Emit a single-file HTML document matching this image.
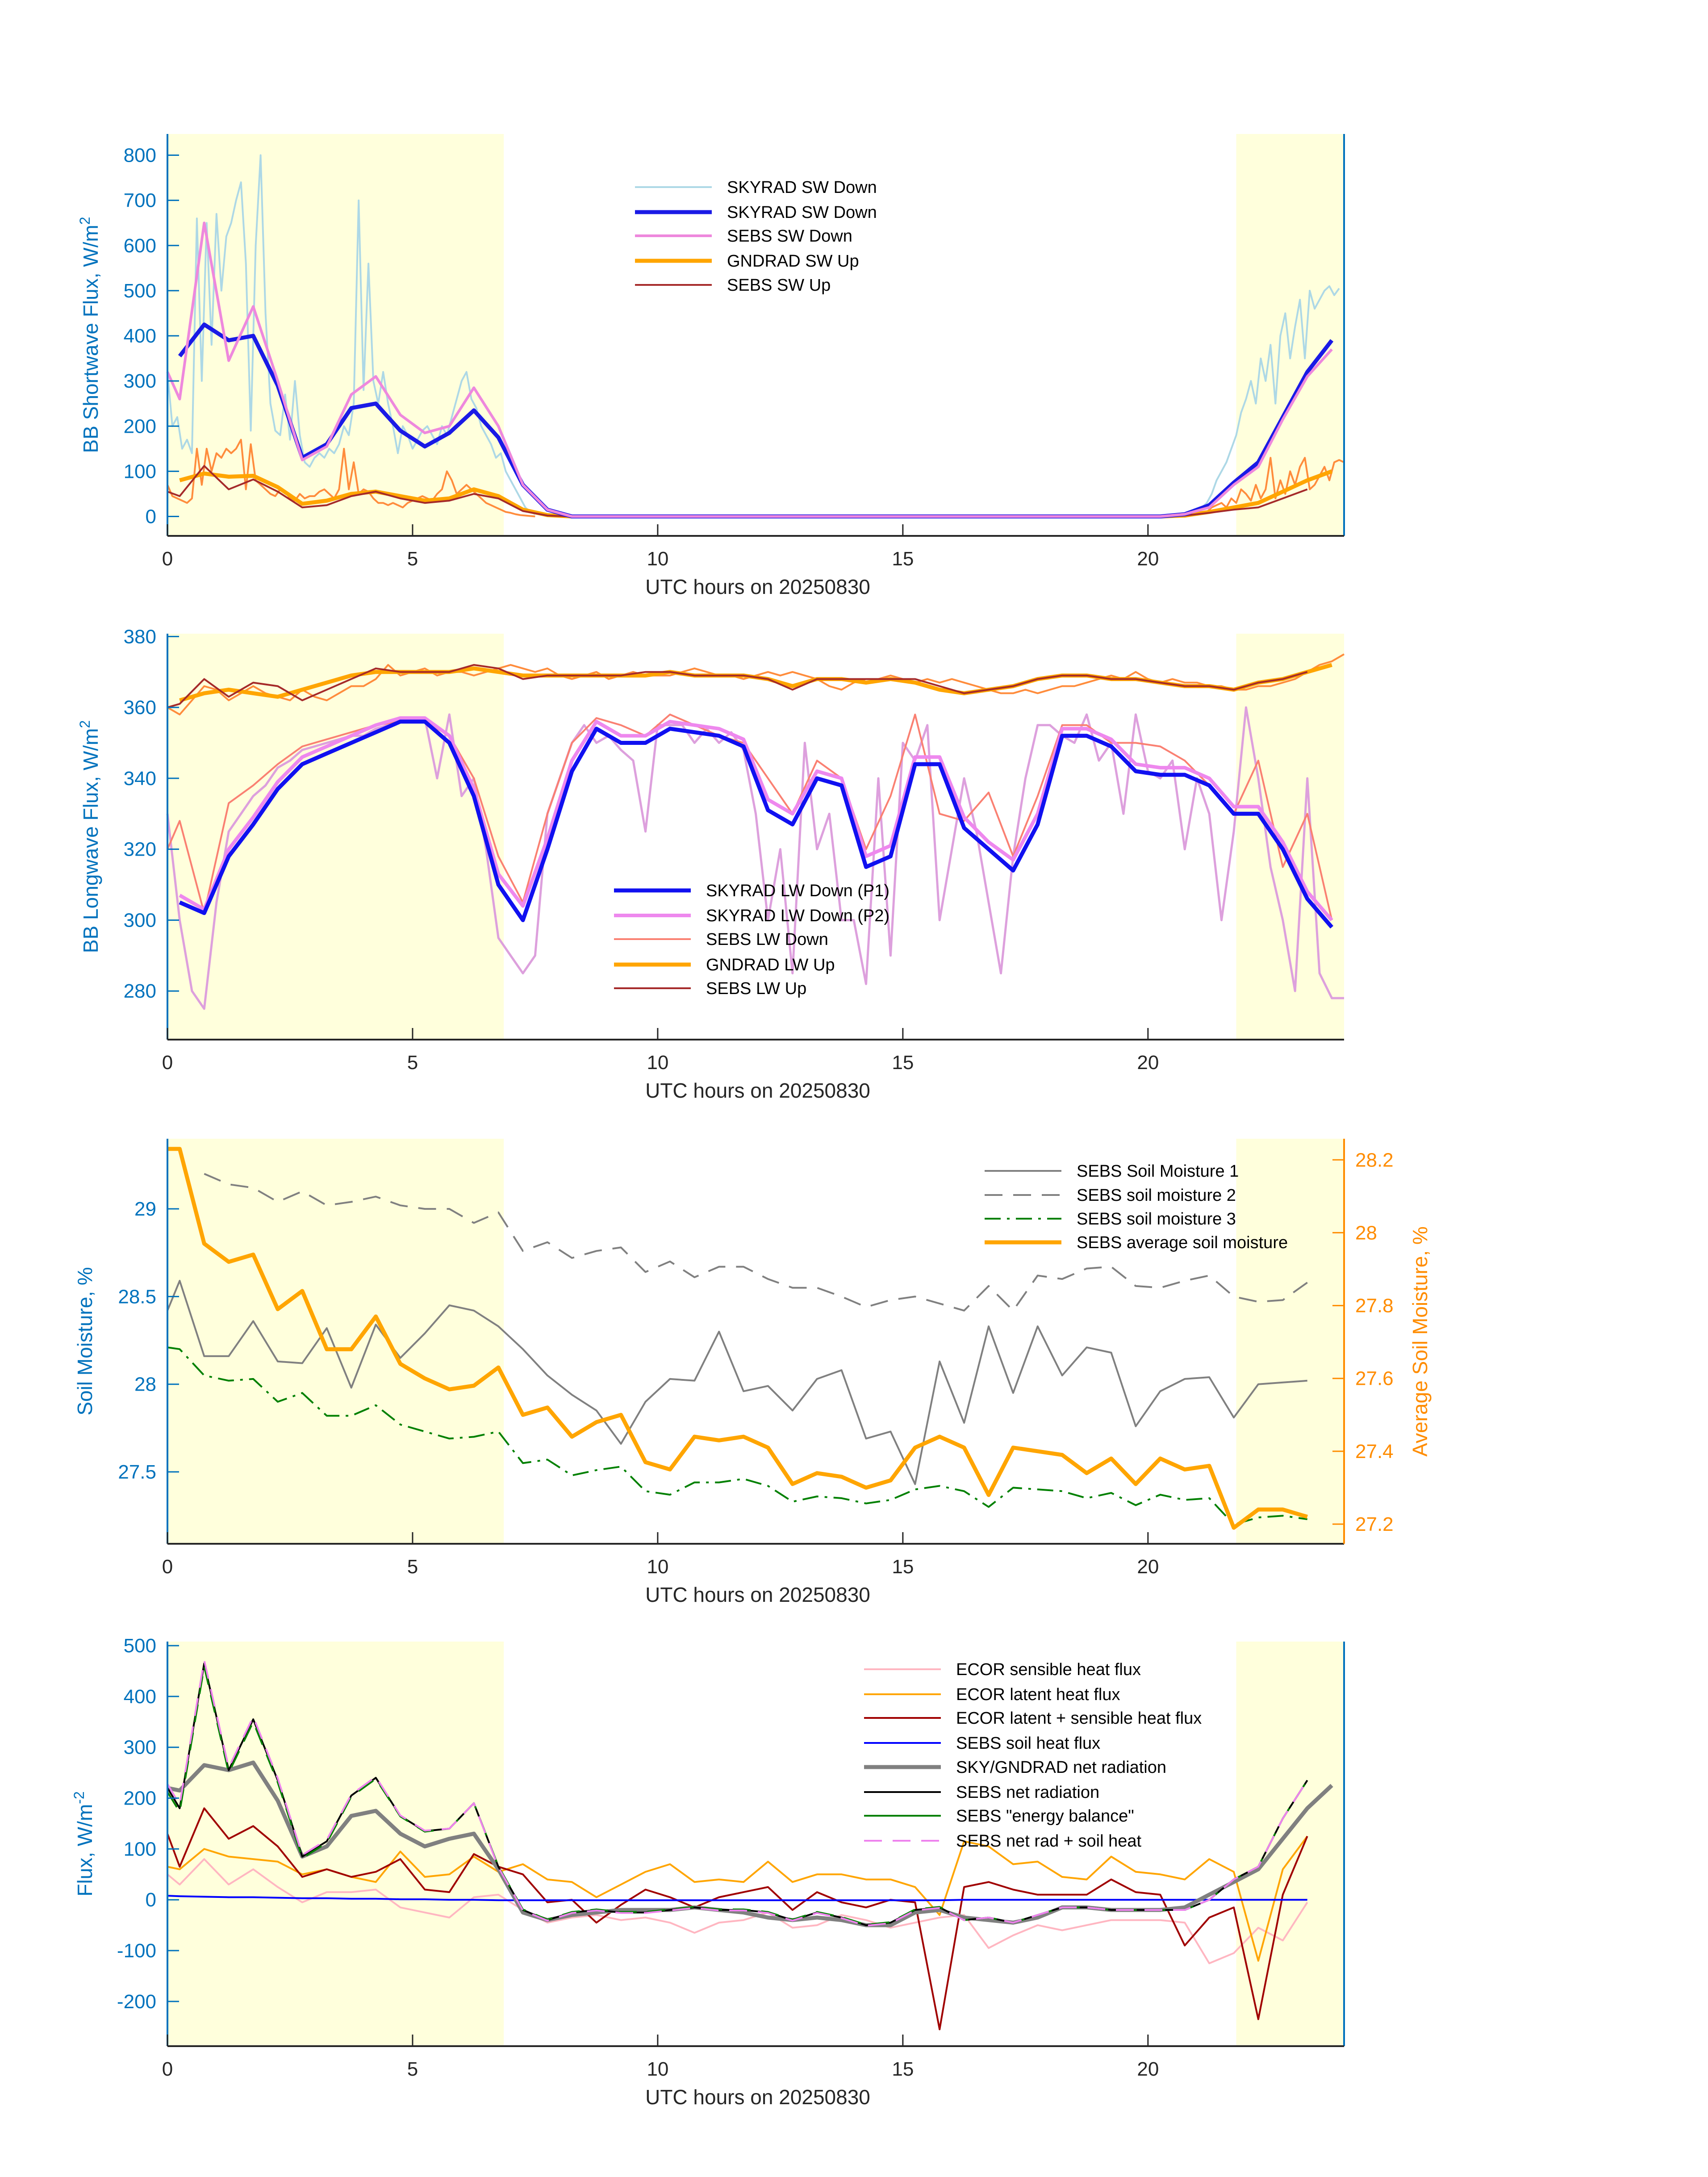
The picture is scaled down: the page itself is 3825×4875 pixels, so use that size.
<!DOCTYPE html>
<html><head><meta charset="utf-8">
<style>
html,body{margin:0;padding:0;background:#fff;}
svg{display:block;font-family:"Liberation Sans","DejaVu Sans",sans-serif;}
</style></head>
<body>
<svg id="fig" width="3825" height="4875" viewBox="0 0 3825 4875" xmlns="http://www.w3.org/2000/svg"></svg>
<script>
// ---------- DATA ----------
const swSkyNoise1 = [320,200,220,150,170,140,660,300,650,380,670,500,620,650,700,740,560,190,600,800,450,250,190,180,270,170,300,180,120,110,130,140,130,150,140,160,200,180,250,700,280,560,300,250,320,250,200,140,200,180,150,170,190,200,180,160,200,180,220,260,300,320,260,240,200,180,160,130,140,100,80,60,40,20,10,5];
const swSkyNoise2 = [10,20,30,50,80,100,120,150,180,230,260,300,250,350,300,380,250,400,450,350,420,480,350,500,460,480,500,510,490,505];
const swUpNoise1 = [70,45,40,35,30,40,150,70,150,100,140,130,150,140,150,170,60,160,80,70,60,50,45,60,55,40,35,50,40,45,45,55,60,50,40,60,150,60,120,50,60,55,40,30,30,25,30,25,20,30,35,40,45,40,35,50,60,100,80,50,60,70,60,50,40,30,25,20,15,10,8,5,3,2,1,0];
const swUpNoise2 = [5,8,10,20,25,30,20,40,30,60,50,35,70,40,60,130,40,80,50,100,70,110,130,60,70,90,110,80,120,125,120];
const swSkyDown = [null,355,425,390,400,290,130,160,240,250,190,155,185,235,175,70,15,0,0,0,0,0,0,0,0,0,0,0,0,0,0,0,0,0,0,0,0,0,0,0,0,0,5,25,75,120,220,320,390];
const swSebsDown = [320,260,650,345,465,300,125,155,270,310,225,185,200,285,200,70,15,0,0,0,0,0,0,0,0,0,0,0,0,0,0,0,0,0,0,0,0,0,0,0,0,0,5,20,70,110,215,310,370];
const swGndUp = [null,80,95,88,90,65,28,35,50,55,45,35,40,60,45,15,3,0,0,0,0,0,0,0,0,0,0,0,0,0,0,0,0,0,0,0,0,0,0,0,0,0,2,10,20,30,55,80,100];
const swSebsUp = [55,45,112,60,82,55,20,25,45,55,40,30,35,50,40,12,2,0,0,0,0,0,0,0,0,0,0,0,0,0,0,0,0,0,0,0,0,0,0,0,0,0,2,8,15,20,40,60];
const lwNoise = [330,300,280,275,305,325,330,335,338,343,345,348,349,350,351,352,352,354,355,357,356,357,340,358,335,340,320,295,290,285,290,330,340,350,355,350,352,348,345,325,355,355,355,350,354,350,353,348,330,300,320,285,350,320,330,300,300,282,340,290,350,345,355,300,320,340,325,305,285,318,340,355,355,352,350,358,345,350,330,358,342,340,345,320,340,330,300,325,360,340,315,300,280,340,285,278,278];
const lwUpNoise = [360,358,362,366,365,362,364,366,364,363,362,365,363,362,364,366,366,368,372,369,370,371,369,370,370,369,370,371,372,371,370,371,369,368,369,370,368,369,370,369,369,369,370,371,370,369,369,368,369,370,369,370,369,368,366,365,367,368,368,369,368,367,368,367,368,367,366,365,364,364,365,364,365,366,366,367,368,369,368,370,368,367,368,367,367,366,366,365,365,366,366,367,368,370,372,373,375];
const lwSkyP1 = [null,305,302,318,327,337,344,347,350,353,356,356,350,335,310,300,320,342,354,350,350,354,353,352,349,331,327,340,338,315,318,344,344,326,320,314,327,352,352,349,342,341,341,338,330,330,320,306,298];
const lwSkyP2 = [null,307,303,320,329,339,346,349,352,355,357,357,352,337,313,304,323,345,356,352,352,356,355,354,351,334,330,342,340,318,321,346,346,329,322,317,330,354,354,351,344,343,343,340,332,332,322,308,300];
const lwSebsDown = [320,328,302,333,338,344,349,351,353,355,356,356,352,340,318,305,330,350,357,355,352,358,355,352,350,340,330,345,340,320,335,358,330,328,336,318,335,355,355,350,350,349,345,338,330,345,315,330,300];
const lwGndUp = [null,362,364,365,364,363,365,367,369,370,370,370,370,371,370,369,369,369,369,369,369,370,369,369,369,368,366,368,368,367,368,367,365,364,365,366,368,369,369,368,368,367,366,366,365,367,368,370,372];
const lwSebsUp = [360,361,368,363,367,366,362,365,368,371,370,370,370,372,371,368,369,369,369,369,370,370,369,369,369,368,365,368,368,368,368,368,366,364,365,366,368,369,369,368,368,367,366,366,365,367,368,370];
const sm1 = [28.42,28.59,28.16,28.16,28.36,28.13,28.12,28.32,27.98,28.34,28.15,28.29,28.45,28.42,28.33,28.2,28.05,27.94,27.85,27.66,27.9,28.03,28.02,28.3,27.96,27.99,27.85,28.03,28.08,27.69,27.73,27.43,28.13,27.78,28.33,27.95,28.33,28.05,28.21,28.18,27.76,27.96,28.03,28.04,27.81,28.0,28.01,28.02];
const sm2 = [null,null,29.2,29.14,29.12,29.04,29.1,29.02,29.04,29.07,29.02,29.0,29.0,28.92,28.98,28.76,28.81,28.72,28.76,28.78,28.64,28.7,28.61,28.67,28.67,28.6,28.55,28.55,28.5,28.44,28.48,28.5,28.46,28.42,28.56,28.42,28.62,28.6,28.66,28.67,28.56,28.55,28.59,28.62,28.5,28.47,28.48,28.58];
const sm3 = [28.21,28.2,28.05,28.02,28.03,27.9,27.95,27.82,27.82,27.88,27.77,27.73,27.69,27.7,27.73,27.55,27.57,27.48,27.51,27.53,27.39,27.37,27.44,27.44,27.46,27.42,27.33,27.36,27.35,27.32,27.34,27.4,27.42,27.39,27.3,27.41,27.4,27.39,27.35,27.38,27.31,27.37,27.34,27.35,27.2,27.24,27.25,27.23];
const smAvg = [28.23,28.23,27.97,27.92,27.94,27.79,27.84,27.68,27.68,27.77,27.64,27.6,27.57,27.58,27.63,27.5,27.52,27.44,27.48,27.5,27.37,27.35,27.44,27.43,27.44,27.41,27.31,27.34,27.33,27.3,27.32,27.41,27.44,27.41,27.28,27.41,27.4,27.39,27.34,27.38,27.31,27.38,27.35,27.36,27.19,27.24,27.24,27.22];
const ecSens = [50,30,80,30,60,25,-5,15,15,20,-15,-25,-35,5,10,-20,-45,-35,-30,-40,-35,-45,-65,-45,-40,-25,-55,-50,-30,-40,-55,-45,-35,-30,-95,-70,-50,-60,-50,-40,-40,-40,-45,-125,-105,-55,-80,-5];
const ecLat = [65,60,100,85,80,75,50,60,45,35,95,45,50,85,55,70,40,35,5,30,55,70,35,40,35,75,35,50,50,40,40,25,-30,115,105,70,75,45,40,85,55,50,40,80,55,-120,60,125];
const ecTot = [130,65,180,120,145,105,45,60,45,55,80,20,15,90,65,50,-5,0,-45,-10,20,5,-15,5,15,25,-20,15,-5,-15,0,-5,-255,25,35,20,10,10,10,40,15,10,-90,-35,-15,-235,10,125];
const soilHeat = [8,7,6,5,5,4,3,3,2,2,1,1,0,0,-1,-1,-1,-1,-1,-1,-1,-1,-1,-1,-1,-1,-1,-1,-1,-1,-1,-1,-1,0,0,0,0,0,0,0,0,0,0,0,0,0,0,0];
const netSky = [220,215,265,255,270,195,85,105,165,175,130,105,120,130,60,-25,-40,-30,-25,-20,-20,-20,-15,-20,-25,-35,-40,-35,-40,-50,-50,-25,-20,-35,-40,-45,-35,-15,-15,-20,-20,-20,-15,10,35,60,120,180,225];
const netSebs = [220,180,465,255,355,235,85,115,205,240,165,135,140,190,65,-20,-40,-25,-20,-25,-25,-20,-15,-20,-20,-25,-40,-25,-35,-50,-45,-20,-15,-40,-35,-45,-30,-15,-15,-20,-20,-20,-20,0,40,65,160,235];
const energyBal = [212,173,459,250,350,231,82,112,203,238,164,134,140,190,66,-19,-39,-24,-19,-24,-24,-19,-14,-19,-19,-24,-39,-24,-34,-49,-44,-19,-14,-40,-35,-45,-30,-15,-15,-20,-20,-20,-20,0,40,65,160,235];
const netPlusSoil = [228,187,471,260,360,239,88,118,207,242,166,136,140,190,64,-21,-41,-26,-21,-26,-26,-21,-16,-21,-21,-26,-41,-26,-36,-51,-46,-21,-16,-40,-35,-45,-30,-15,-15,-20,-20,-20,-20,0,40,65,160,235];
const xTicks = [0,5,10,15,20];

// ---------- DRAWING ----------
const NS = "http://www.w3.org/2000/svg";
const svg = document.getElementById("fig");
const X0 = 375, X1 = 3010;
const sx = t => X0 + t / 24 * (X1 - X0);
const halfT = i => i === 0 ? 0 : 0.25 + 0.5 * (i - 1);
function mk(tag, attrs, parent) {
  const el = document.createElementNS(NS, tag);
  for (const k in attrs) el.setAttribute(k, attrs[k]);
  (parent || svg).appendChild(el);
  return el;
}
function txt(s, x, y, size, fill, anchor, parent, name, rot) {
  const el = mk("text", {x: x, y: y, "font-size": size, fill: fill, "text-anchor": anchor || "start"}, parent);
  if (rot) el.setAttribute("transform", "rotate(-90 " + x + " " + y + ")");
  el.textContent = s;
  
  
  return el;
}
function series(g, vals, tfn, sy, color, w, dash, name) {
  let d = "", pen = false;
  vals.forEach((v, i) => {
    if (v === null || v === undefined) { pen = false; return; }
    d += (pen ? "L" : "M") + sx(tfn(i)).toFixed(1) + " " + sy(v).toFixed(1);
    pen = true;
  });
  const el = mk("path", {d: d, fill: "none", stroke: color, "stroke-width": w, "stroke-linejoin": "round", "stroke-linecap": "butt"}, g);
  if (dash) el.setAttribute("stroke-dasharray", dash);
  
  
}
function panel(id, top, bot, ymin, ymax) {
  const g = mk("g", {}, svg);
  
  
  const sy = v => bot - (v - ymin) / (ymax - ymin) * (bot - top);
  const sh1 = mk("rect", {x: X0, y: top, width: sx(6.86) - X0, height: bot - top, fill: "#ffffdc"}, g);
  
  
  const sh2 = mk("rect", {x: sx(21.8), y: top, width: X1 - sx(21.8), height: bot - top, fill: "#ffffdc"}, g);
  
  
  return {g, sy, top, bot};
}
function axes(P, yticks, fmt, ylabel, sup, lx, rightBlue) {
  const g = P.g, sy = P.sy;
  const ax = mk("line", {x1: X0, y1: P.top, x2: X0, y2: P.bot, stroke: "#0072bd", "stroke-width": 4}, g);
  
  
  if (rightBlue) {
    const ra = mk("line", {x1: X1, y1: P.top, x2: X1, y2: P.bot, stroke: "#0072bd", "stroke-width": 4}, g);
    
    
  }
  const bx = mk("line", {x1: X0, y1: P.bot, x2: X1, y2: P.bot, stroke: "#262626", "stroke-width": 4}, g);
  
  
  yticks.forEach(v => {
    const tk = mk("line", {x1: X0, y1: sy(v), x2: X0 + 26, y2: sy(v), stroke: "#0072bd", "stroke-width": 3}, g);
    
    
    txt(fmt(v), 350, sy(v) + 15, 44, "#0072bd", "end", g, 'y-tick-label');
  });
  xTicks.forEach(v => {
    const tk = mk("line", {x1: sx(v), y1: P.bot, x2: sx(v), y2: P.bot - 26, stroke: "#262626", "stroke-width": 3}, g);
    
    
    txt(String(v), sx(v), P.bot + 66, 44, "#262626", "middle", g, 'x-tick-label');
  });
  txt("UTC hours on 20250830", 1697, P.bot + 130, 46, "#262626", "middle", g, 'x-axis-title');
  const yl = txt(ylabel, lx, (P.top + P.bot) / 2, 46, "#0072bd", "middle", g, 'y-axis-title', true);
  if (sup) {
    const ts = document.createElementNS(NS, "tspan");
    ts.setAttribute("baseline-shift", "super");
    ts.setAttribute("font-size", "32");
    ts.textContent = sup;
    yl.appendChild(ts);
  }
}
function legend(g, x, ys, items) {
  items.forEach((it, i) => {
    const ln = mk("line", {x1: x, y1: ys[i], x2: x + 172, y2: ys[i], stroke: it[1], "stroke-width": it[2]}, g);
    if (it[3]) ln.setAttribute("stroke-dasharray", it[3]);
    
    
    txt(it[0], x + 206, ys[i] + 13, 38, "#000", "start", g, 'legend-entry');
  });
}

// Panel 1
const P1 = panel("shortwave-panel", 300, 1200, -43, 847);
series(P1.g, swSkyNoise1, i => i * 0.1, P1.sy, "#add8e6", 4, null, "skyrad-sw-down-1min");
series(P1.g, swSkyNoise2, i => 21 + i * 0.1, P1.sy, "#add8e6", 4, null, "skyrad-sw-down-1min-pm");
series(P1.g, swUpNoise1, i => i * 0.1, P1.sy, "#ff8c3c", 4, null, "sebs-sw-up-1min");
series(P1.g, swUpNoise2, i => 21 + i * 0.1, P1.sy, "#ff8c3c", 4, null, "sebs-sw-up-1min-pm");
series(P1.g, swGndUp, halfT, P1.sy, "#ffa500", 9, null, "gndrad-sw-up");
series(P1.g, swSebsUp, halfT, P1.sy, "#a52a2a", 4, null, "sebs-sw-up");
series(P1.g, swSkyDown, halfT, P1.sy, "#1a1ae6", 9, null, "skyrad-sw-down");
series(P1.g, swSebsDown, halfT, P1.sy, "#ee88dd", 6, null, "sebs-sw-down");
axes(P1, [0,100,200,300,400,500,600,700,800], v => String(v), "BB Shortwave Flux, W/m", "2", 219, true);
legend(P1.g, 1422, [419,475,528,584,638], [["SKYRAD SW Down","#add8e6",4],["SKYRAD SW Down","#1a1ae6",9],["SEBS SW Down","#ee88dd",6],["GNDRAD SW Up","#ffa500",9],["SEBS SW Up","#a52a2a",4]]);

// Panel 2
const P2 = panel("longwave-panel", 1419, 2328, 266.3, 380.8);
series(P2.g, lwNoise, i => i * 0.25, P2.sy, "#dda0dd", 5, null, "skyrad-lw-down-1min");
series(P2.g, lwUpNoise, i => i * 0.25, P2.sy, "#ff8c3c", 4, null, "gndrad-lw-up-1min");
series(P2.g, lwSebsDown, halfT, P2.sy, "#fa8072", 4, null, "sebs-lw-down");
series(P2.g, lwGndUp, halfT, P2.sy, "#ffa500", 9, null, "gndrad-lw-up");
series(P2.g, lwSebsUp, halfT, P2.sy, "#a52a2a", 4, null, "sebs-lw-up");
series(P2.g, lwSkyP2, halfT, P2.sy, "#ee88ee", 8, null, "skyrad-lw-down-p2");
series(P2.g, lwSkyP1, halfT, P2.sy, "#1010f0", 9, null, "skyrad-lw-down-p1");
axes(P2, [280,300,320,340,360,380], v => String(v), "BB Longwave Flux, W/m", "2", 219, false);
legend(P2.g, 1375, [1994,2050,2103,2160,2213], [["SKYRAD LW Down (P1)","#1010f0",9],["SKYRAD LW Down (P2)","#ee88ee",8],["SEBS LW Down","#fa8072",4],["GNDRAD LW Up","#ffa500",9],["SEBS LW Up","#a52a2a",4]]);

// Panel 3
const P3 = panel("soil-moisture-panel", 2550, 3457, 27.09, 29.40);
const syR = v => 3457 - (v - 27.146) / (28.258 - 27.146) * (3457 - 2550);
series(P3.g, sm1, halfT, P3.sy, "#808080", 4, null, "sebs-soil-moisture-1");
series(P3.g, sm2, halfT, P3.sy, "#808080", 4, "40 24", "sebs-soil-moisture-2");
series(P3.g, sm3, halfT, P3.sy, "#008000", 4, "36 14 6 14", "sebs-soil-moisture-3");
series(P3.g, smAvg, halfT, syR, "#ffa500", 9, null, "sebs-average-soil-moisture");
axes(P3, [27.5,28,28.5,29], v => String(v), "Soil Moisture, %", null, 206, false);
const rax = mk("line", {x1: X1, y1: 2550, x2: X1, y2: 3457, stroke: "#ff8c00", "stroke-width": 4}, P3.g);


[27.2,27.4,27.6,27.8,28,28.2].forEach(v => {
  const tk = mk("line", {x1: X1, y1: syR(v), x2: X1 - 26, y2: syR(v), stroke: "#ff8c00", "stroke-width": 3}, P3.g);
  
  
  txt(v === 28 ? "28" : v.toFixed(1), 3035, syR(v) + 15, 44, "#ff8c00", "start", P3.g, 'y-right-tick-label');
});
txt("Average Soil Moisture, %", 3196, 3004, 46, "#ff8c00", "middle", P3.g, 'y-right-axis-title', true);
legend(P3.g, 2205, [2622,2676,2729,2782], [["SEBS Soil Moisture 1","#808080",4],["SEBS soil moisture 2","#808080",4,"40 24"],["SEBS soil moisture 3","#008000",4,"36 14 6 14"],["SEBS average soil moisture","#ffa500",9]]);

// Panel 4
const P4 = panel("energy-flux-panel", 3676, 4582, -288, 508);
series(P4.g, ecSens, halfT, P4.sy, "#ffb6c1", 4, null, "ecor-sensible-heat-flux");
series(P4.g, ecLat, halfT, P4.sy, "#ffa500", 4, null, "ecor-latent-heat-flux");
series(P4.g, ecTot, halfT, P4.sy, "#a00000", 4, null, "ecor-latent-plus-sensible");
series(P4.g, soilHeat, halfT, P4.sy, "#0000ff", 4, null, "sebs-soil-heat-flux");
series(P4.g, netSky, halfT, P4.sy, "#808080", 9, null, "sky-gndrad-net-radiation");
series(P4.g, netSebs, halfT, P4.sy, "#000000", 4, null, "sebs-net-radiation");
series(P4.g, energyBal, halfT, P4.sy, "#008000", 4, "40 24", "sebs-energy-balance");
series(P4.g, netPlusSoil, halfT, P4.sy, "#ee82ee", 4, "40 24", "sebs-net-rad-plus-soil-heat");
axes(P4, [-200,-100,0,100,200,300,400,500], v => String(v), "Flux, W/m", "-2", 206, true);
legend(P4.g, 1935, [3738,3794,3847,3903,3957,4013,4066,4122], [["ECOR sensible heat flux","#ffb6c1",4],["ECOR latent heat flux","#ffa500",4],["ECOR latent + sensible heat flux","#a00000",4],["SEBS soil heat flux","#0000ff",4],["SKY/GNDRAD net radiation","#808080",9],["SEBS net radiation","#000000",4],["SEBS \"energy balance\"","#008000",4],["SEBS net rad + soil heat","#ee82ee",4,"40 24"]]);
</script>
</body></html>
